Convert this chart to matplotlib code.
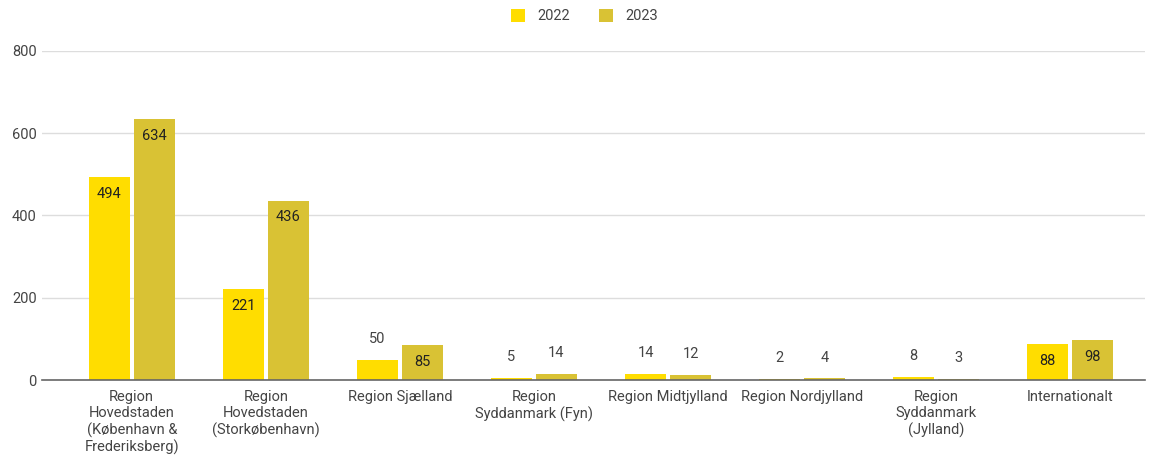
import matplotlib
matplotlib.use("Agg")
import matplotlib.pyplot as plt
import numpy as np

plt.rcParams['font.family'] = ['Roboto', 'DejaVu Sans']

categories = [
    "Region\nHovedstaden\n(København &\nFrederiksberg)",
    "Region\nHovedstaden\n(Storkøbenhavn)",
    "Region Sjælland",
    "Region\nSyddanmark (Fyn)",
    "Region Midtjylland",
    "Region Nordjylland",
    "Region\nSyddanmark\n(Jylland)",
    "Internationalt",
]
years = ["2022", "2023"]
values_2022 = [494, 221, 50, 5, 14, 2, 8, 88]
values_2023 = [634, 436, 85, 14, 12, 4, 3, 98]
colors = ["#FFDD00", "#D9C234"]

fig = plt.figure(figsize=(11.57, 4.58), dpi=100)
ax = fig.add_axes([0.036, 0.170, 0.954, 0.719])

x = np.arange(len(categories))
w = 0.306
gap = 0.015
for i, (vals, col, lab) in enumerate(zip([values_2022, values_2023], colors, years)):
    offs = (-1 if i == 0 else 1) * (w / 2 + gap)
    bars = ax.bar(x + offs, vals, width=w, color=col, label=lab, zorder=3)
    for b, v in zip(bars, vals):
        cx = b.get_x() + b.get_width() / 2
        if v >= 80:
            ax.annotate(str(v), (cx, v), xytext=(0, -7), textcoords="offset points",
                        ha="center", va="top", fontsize=10.5, color="#222222")
        else:
            ax.annotate(str(v), (cx, v), xytext=(0, 10), textcoords="offset points",
                        ha="center", va="bottom", fontsize=10.5, color="#444444")

ax.set_ylim(0, 800)
ax.set_yticks([0, 200, 400, 600, 800])
ax.set_xlim(-0.5 - 23 / 134, 7.5 + 8 / 134)
ax.set_xticks(x)
ax.set_xticklabels(categories, fontsize=10.5, color="#333333", linespacing=1.2)
ax.tick_params(axis="both", length=0, labelsize=10.5, colors="#444444")
ax.tick_params(axis="x", pad=7)
ax.grid(axis="y", color="#DDDDDD", linewidth=1, zorder=0)
for s in ["top", "right", "left"]:
    ax.spines[s].set_visible(False)
ax.spines["bottom"].set_color("#666666")
ax.spines["bottom"].set_linewidth(1.2)
ax.spines["bottom"].set_zorder(4)

fig.legend(loc="upper center", bbox_to_anchor=(0.505, 1.01), ncol=2, frameon=False,
           fontsize=10.5, handlelength=1.0, handleheight=1.0, columnspacing=2.0,
           labelcolor="#444444")

fig.savefig("out.png", dpi=100)
